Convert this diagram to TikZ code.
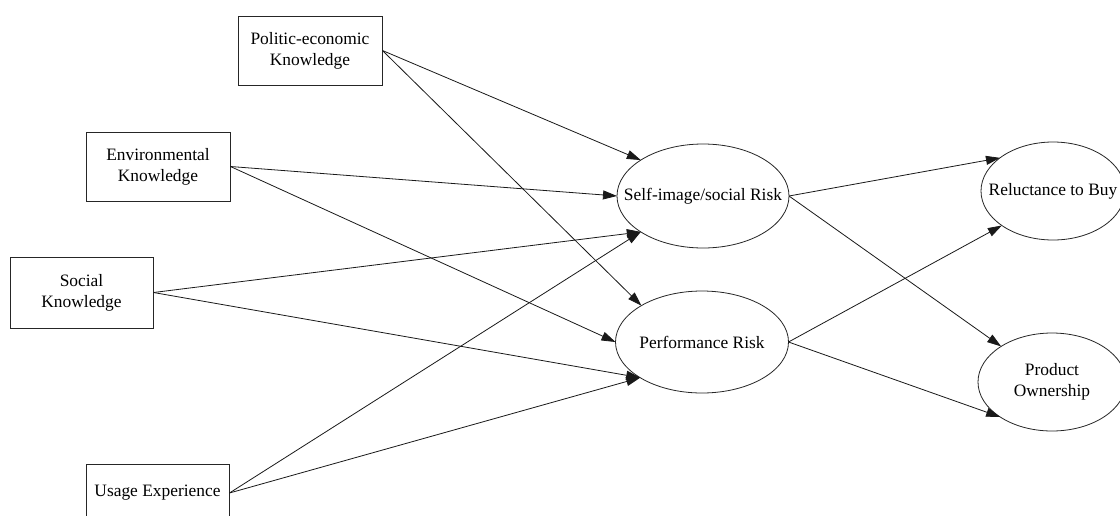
\documentclass[tikz,border=0pt]{standalone}
\usepackage{fontspec}
\setmainfont{Liberation Serif}
\usetikzlibrary{arrows.meta,shapes.geometric}
\begin{document}
\begin{tikzpicture}[x=1pt,y=-1pt,
  box/.style={draw=black!85, line width=0.9pt, rectangle, inner sep=0pt, align=center, font=\fontsize{17.4}{21}\selectfont},
  oval/.style={draw=black!85, line width=0.8pt, ellipse, inner sep=0pt, outer sep=0pt},
  lbl/.style={font=\fontsize{17.4}{21}\selectfont, align=center, inner sep=0pt},
  arr/.style={draw=black!90, line width=0.8pt, -{Triangle[length=14pt,width=9pt]}}]
\path[use as bounding box, clip] (0,0) rectangle (1120,515);
\fill[white] (0,0) rectangle (1120,515);

\node[box, minimum width=144pt, minimum height=69pt] (pol) at (310,50.5) {Politic-economic\\Knowledge};
\node[box, minimum width=144pt, minimum height=69pt] (env) at (158,166.5) {Environmental\\Knowledge};
\node[box, minimum width=143pt, minimum height=71pt] (soc) at (81.5,292.5) {Social\\Knowledge};
\node[box, minimum width=143pt, minimum height=58pt] (use) at (157.5,493) {Usage Experience};

\node[oval, minimum width=172pt, minimum height=104pt, label={[lbl]center:Self-image/social Risk}] (self) at (703,196) {};
\node[oval, minimum width=173pt, minimum height=102pt, label={[lbl]center:Performance Risk}] (perf) at (702,342) {};
\node[oval, minimum width=144pt, minimum height=98pt, label={[lbl]center:Reluctance to Buy}] (rel) at (1053,191) {};
\node[oval, minimum width=148pt, minimum height=98pt, label={[lbl]center:Product\\Ownership}] (prod) at (1052,382) {};

\draw[arr] (pol.east) -- (self.150);
\draw[arr] (pol.east) -- (perf.149);
\draw[arr] (env.east) -- (self.180);
\draw[arr] (env.east) -- (perf.180);
\draw[arr] (soc.east) -- (self.210);
\draw[arr] (soc.east) -- (perf.210);
\draw[arr] (use.east) -- (self.210);
\draw[arr] (use.east) -- (perf.210);
\draw[arr] (self.east) -- (rel.148);
\draw[arr] (self.east) -- (prod.145);
\draw[arr] (perf.east) -- (rel.214);
\draw[arr] (perf.east) -- (prod.214);
\end{tikzpicture}
\end{document}
